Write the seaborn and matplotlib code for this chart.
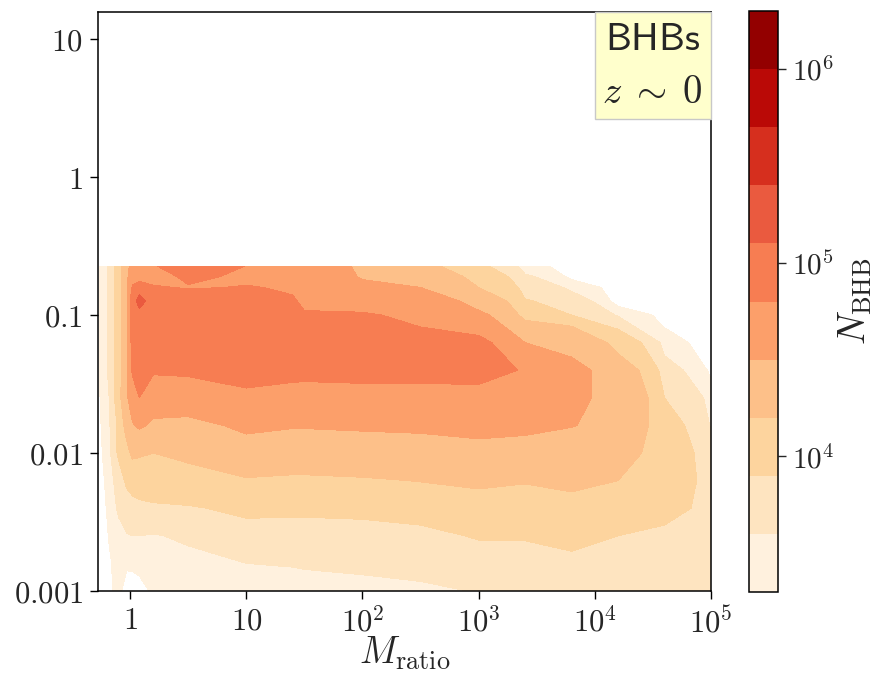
import numpy as np
import matplotlib
matplotlib.use("Agg")
import matplotlib.pyplot as plt
import seaborn as sns
from matplotlib.colors import LogNorm
from matplotlib.offsetbox import AnchoredText

sns.set_style("ticks")
plt.rcParams["mathtext.fontset"] = "cm"
plt.rcParams["font.family"] = ["DejaVu Sans"]

# grid nodes: log10 of the mass ratio (columns) and of the vertical quantity (rows)
log_mratio = [-0.27, -0.18, -0.10, -0.03, 0.02, 0.08, 0.2, 0.5, 1.0, 1.4,
              1.5, 2.0, 2.5, 3.0, 3.4, 3.8, 4.2, 4.6, 5.0]
log_yvar = [-3.0, -2.8, -2.6, -2.4, -2.2, -2.0, -1.8, -1.6, -1.4, -1.2,
            -1.0, -0.9, -0.8, -0.72, -0.645]

# log10 of the number of BHBs per cell, one row per log_yvar node
log_nbhb = [
    [3.00, 3.27, 3.35, 3.20, 3.15, 3.18, 3.35, 3.40, 3.45, 3.48, 3.50, 3.52, 3.55, 3.62, 3.62, 3.75, 3.70, 3.70, 3.65],
    [3.02, 3.27, 3.38, 3.34, 3.36, 3.40, 3.46, 3.50, 3.60, 3.62, 3.63, 3.66, 3.70, 3.74, 3.77, 3.85, 3.78, 3.78, 3.70],
    [3.05, 3.32, 3.50, 3.58, 3.60, 3.60, 3.58, 3.66, 3.78, 3.78, 3.78, 3.80, 3.84, 3.93, 3.93, 3.97, 3.90, 3.86, 3.76],
    [3.08, 3.37, 3.65, 3.78, 3.80, 3.83, 3.86, 3.88, 3.97, 3.96, 3.96, 3.97, 4.00, 4.09, 4.06, 4.12, 4.05, 3.97, 3.80],
    [3.12, 3.42, 3.75, 3.95, 4.02, 4.05, 4.06, 4.08, 4.18, 4.16, 4.16, 4.18, 4.21, 4.25, 4.22, 4.26, 4.20, 4.03, 3.78],
    [3.16, 3.50, 3.95, 4.12, 4.25, 4.23, 4.20, 4.27, 4.37, 4.35, 4.35, 4.35, 4.38, 4.42, 4.40, 4.38, 4.28, 4.04, 3.72],
    [3.20, 3.55, 3.95, 4.30, 4.48, 4.54, 4.45, 4.44, 4.56, 4.52, 4.52, 4.54, 4.55, 4.58, 4.56, 4.51, 4.36, 4.00, 3.57],
    [3.24, 3.60, 4.05, 4.45, 4.65, 4.80, 4.65, 4.63, 4.76, 4.73, 4.72, 4.74, 4.74, 4.75, 4.70, 4.54, 4.40, 3.90, 3.45],
    [3.27, 3.65, 4.05, 4.40, 4.84, 4.92, 4.83, 4.85, 4.88, 4.86, 4.86, 4.86, 4.86, 4.86, 4.78, 4.56, 4.33, 3.70, 3.20],
    [3.27, 3.65, 4.05, 4.40, 4.88, 4.98, 4.95, 4.95, 4.95, 4.92, 4.90, 4.88, 4.87, 4.85, 4.50, 4.40, 4.05, 3.45, 2.90],
    [3.27, 3.65, 4.05, 4.40, 4.90, 5.00, 4.97, 4.97, 4.95, 4.90, 4.83, 4.82, 4.72, 4.55, 4.05, 3.90, 3.55, 3.05, 2.70],
    [3.27, 3.65, 4.05, 4.40, 4.95, 5.20, 4.90, 4.92, 4.90, 4.84, 4.72, 4.70, 4.62, 4.37, 3.92, 3.74, 3.00, 2.90, 2.60],
    [3.27, 3.65, 4.05, 4.40, 4.82, 4.95, 4.82, 4.78, 4.82, 4.74, 4.66, 4.56, 4.50, 4.20, 3.77, 3.52, 2.90, 2.80, 2.60],
    [3.27, 3.65, 4.05, 4.40, 4.72, 4.60, 4.70, 4.86, 4.70, 4.68, 4.64, 4.47, 4.35, 4.07, 3.64, 3.15, 2.80, 2.70, 2.60],
    [3.27, 3.65, 4.05, 4.40, 4.60, 4.65, 4.78, 4.98, 4.79, 4.68, 4.65, 4.42, 4.25, 3.95, 3.40, 3.10, 2.70, 2.60, 2.60],
]

# contour boundaries (log10 N_BHB)
level_exps = [3.3, 3.6, 3.9, 4.2, 4.5, 4.8, 5.1, 5.4, 5.7, 6.0, 6.3]

x_ticks = [1, 10, 1e2, 1e3, 1e4, 1e5]
x_ticklabels = [r"$1$", r"$10$", r"$10^{2}$", r"$10^{3}$", r"$10^{4}$", r"$10^{5}$"]
y_ticks = [1e-3, 1e-2, 1e-1, 1, 10]
y_ticklabels = [r"$0.001$", r"$0.01$", r"$0.1$", r"$1$", r"$10$"]
cbar_ticks = [1e4, 1e5, 1e6]
cbar_ticklabels = [r"$10^{4}$", r"$10^{5}$", r"$10^{6}$"]

mratio = 10.0 ** np.asarray(log_mratio)
yvar = 10.0 ** np.asarray(log_yvar)
nbhb = 10.0 ** np.asarray(log_nbhb)
levels = 10.0 ** np.asarray(level_exps)

fig = plt.figure(figsize=(8.8, 6.77), dpi=100)
ax = fig.add_axes([98 / 880, 86 / 677, 613 / 880, 579 / 677])
cax = fig.add_axes([749 / 880, 85 / 677, 29 / 880, 581 / 677])

cmap = sns.color_palette("OrRd", as_cmap=True)
norm = LogNorm(vmin=levels[0], vmax=levels[-1])
cs = ax.contourf(mratio, yvar, nbhb, levels=levels, cmap=cmap, norm=norm)

ax.set_xscale("log")
ax.set_yscale("log")
ax.set_xlim(10 ** -0.276, 1e5)
ax.set_ylim(1e-3, 10 ** 1.196)
ax.set_xticks(x_ticks)
ax.set_xticklabels(x_ticklabels)
ax.set_yticks(y_ticks)
ax.set_yticklabels(y_ticklabels)
ax.minorticks_off()
ax.tick_params(axis="both", which="major", direction="out", length=6,
               width=1.0, labelsize=22, color="black", pad=5)
for sp in ax.spines.values():
    sp.set_visible(True)
    sp.set_color("black")
    sp.set_linewidth(1.1)
ax.set_xlabel(r"$M_{\rm ratio}$", fontsize=27, labelpad=-3)

label_box = AnchoredText(r"$\mathsf{BHBs}$" + "\n" + r"$z\;\sim\;0$",
                         loc="upper right", borderpad=0.0, pad=0.2,
                         prop=dict(size=28, multialignment="center",
                                   linespacing=1.5))
label_box.patch.set_facecolor("#ffffcc")
label_box.patch.set_edgecolor("#c8c8c8")
label_box.patch.set_linewidth(1.0)
ax.add_artist(label_box)

cbar = fig.colorbar(cs, cax=cax)
cbar.minorticks_off()
cbar.set_ticks(cbar_ticks)
cbar.set_ticklabels(cbar_ticklabels)
cbar.ax.tick_params(direction="out", length=6, width=1.0, labelsize=21, pad=4)
cbar.outline.set_edgecolor("black")
cbar.outline.set_linewidth(1.1)
cbar.set_label(r"$N_{\rm BHB}$", fontsize=27, labelpad=2)

fig.savefig("out.png", dpi=100)
